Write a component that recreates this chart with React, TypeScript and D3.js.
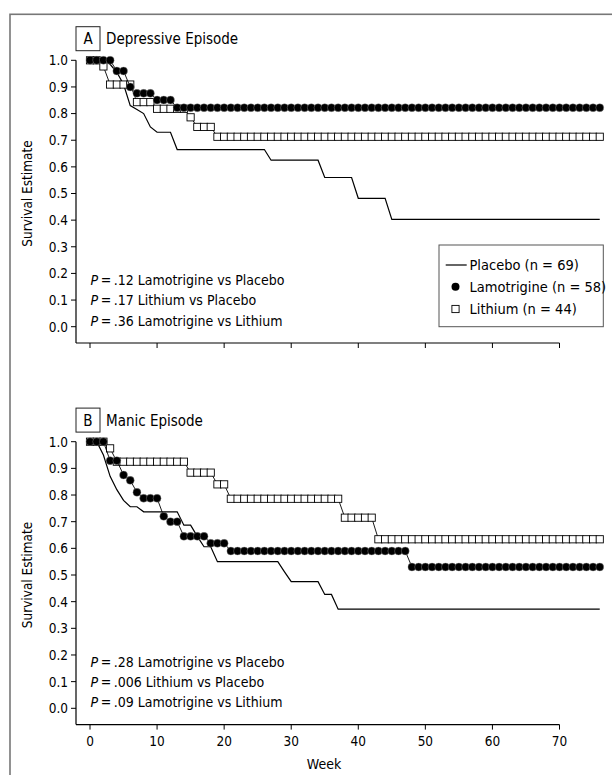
import * as d3 from 'd3'

// weeks on the x axis and survival ticks
const xTicks = [0, 10, 20, 30, 40, 50, 60, 70]
const yTicks = [0, 0.1, 0.2, 0.3, 0.4, 0.5, 0.6, 0.7, 0.8, 0.9, 1.0]

// Panel A: depressive episode
// placebo: [week, survival] vertices of the line
const depPlacebo: [number, number][] = [
  [0, 1], [1, 1], [2, 1], [3, 0.985], [4, 0.955], [5, 0.91], [6, 0.83], [7, 0.815],
  [8, 0.8], [9, 0.75], [10, 0.73], [12, 0.73], [13, 0.665], [26, 0.665], [27, 0.625],
  [34, 0.625], [35, 0.56], [39, 0.56], [40, 0.482], [44, 0.482], [45, 0.403], [76, 0.403],
]
// marked series: [first week, last week, survival] (one marker per week)
const depLamotrigine: [number, number, number][] = [
  [0, 3, 1], [4, 5, 0.96], [6, 6, 0.9], [7, 9, 0.876], [10, 12, 0.851], [13, 76, 0.822],
]
const depLithium: [number, number, number][] = [
  [0, 1, 1], [2, 2, 0.977], [3, 6, 0.909], [7, 9, 0.843], [10, 14, 0.818], [15, 15, 0.786],
  [16, 18, 0.75], [19, 76, 0.713],
]
const depPValues = [
  ['.12', 'Lamotrigine vs Placebo'],
  ['.17', 'Lithium vs Placebo'],
  ['.36', 'Lamotrigine vs Lithium'],
]

// Panel B: manic episode
const manPlacebo: [number, number][] = [
  [0, 1], [1, 1], [2, 0.95], [3, 0.87], [4, 0.82], [5, 0.78], [6, 0.756], [7, 0.756],
  [8, 0.737], [13, 0.737], [14, 0.687], [15, 0.687], [16, 0.645], [17, 0.606], [18, 0.606],
  [19, 0.55], [28, 0.55], [29, 0.512], [30, 0.475], [34, 0.475], [35, 0.427], [36, 0.427],
  [37, 0.372], [76, 0.372],
]
const manLamotrigine: [number, number, number][] = [
  [0, 2, 1], [3, 4, 0.929], [5, 5, 0.875], [6, 6, 0.855], [7, 7, 0.81], [8, 10, 0.788],
  [11, 11, 0.72], [12, 13, 0.7], [14, 17, 0.645], [18, 20, 0.619], [21, 47, 0.59], [48, 76, 0.53],
]
const manLithium: [number, number, number][] = [
  [0, 2, 1], [3, 3, 0.975], [4, 14, 0.925], [15, 18, 0.884], [19, 20, 0.84], [21, 37, 0.786],
  [38, 42, 0.715], [43, 76, 0.634],
]
const manPValues = [
  ['.28', 'Lamotrigine vs Placebo'],
  ['.006', 'Lithium vs Placebo'],
  ['.09', 'Lamotrigine vs Lithium'],
]

const legendItems = ['Placebo (n = 69)', 'Lamotrigine (n = 58)', 'Lithium (n = 44)']

const FONT = "'DejaVu Sans Condensed', 'Liberation Sans Narrow', sans-serif"

function expand(runs: [number, number, number][]): [number, number][] {
  const pts: [number, number][] = []
  runs.forEach(([a, b, v]) => {
    for (let w = a; w <= b; w++) pts.push([w, v])
  })
  return pts
}

const x = d3.scaleLinear().domain([0, 70]).range([90, 559.5])

type PanelProps = {
  letter: string
  title: string
  top: number
  bottom: number
  placebo: [number, number][]
  lamotrigine: [number, number, number][]
  lithium: [number, number, number][]
  pValues: string[][]
  showXLabels: boolean
}

function Panel({ letter, title, top, bottom, placebo, lamotrigine, lithium, pValues, showXLabels }: PanelProps) {
  const y = d3.scaleLinear().domain([0, 1]).range([bottom, top])
  const axisX = 76
  const axisY = bottom + 16.3
  const line = d3.line<[number, number]>().x(d => x(d[0])).y(d => y(d[1]))
  const lam = expand(lamotrigine)
  const lit = expand(lithium)
  const sq = 7.2

  return (
    <g>
      {/* panel label */}
      <rect x={76} y={top - 33.6} width={24} height={24} fill="none" stroke="#222" strokeWidth={1} />
      <text x={88} y={top - 21.6} dy="0.36em" textAnchor="middle" fontSize={15}>{letter}</text>
      <text x={106} y={top - 21.6} dy="0.36em" fontSize={15}>{title}</text>

      {/* y axis */}
      <line x1={axisX} x2={axisX} y1={top} y2={axisY} stroke="#000" strokeWidth={1.2} />
      {yTicks.map(t => (
        <g key={t}>
          <line x1={axisX - 5} x2={axisX} y1={y(t)} y2={y(t)} stroke="#000" strokeWidth={1} />
          <text x={axisX - 8} y={y(t)} dy="0.36em" textAnchor="end" fontSize={13.5}>{t.toFixed(1)}</text>
        </g>
      ))}
      <text
        transform={`translate(27,${(top + bottom) / 2}) rotate(-90)`}
        dy="0.36em" textAnchor="middle" fontSize={13.5}
      >Survival Estimate</text>

      {/* x axis */}
      <line x1={axisX} x2={x(70)} y1={axisY} y2={axisY} stroke="#000" strokeWidth={1.2} />
      {xTicks.map(t => (
        <g key={t}>
          <line x1={x(t)} x2={x(t)} y1={axisY} y2={axisY + 5} stroke="#000" strokeWidth={1} />
          {showXLabels && (
            <text x={x(t)} y={axisY + 16.5} dy="0.36em" textAnchor="middle" fontSize={13.5}>{t}</text>
          )}
        </g>
      ))}
      {showXLabels && (
        <text x={324} y={axisY + 39.5} dy="0.36em" textAnchor="middle" fontSize={14}>Week</text>
      )}

      {/* p values */}
      {pValues.map(([p, label], i) => (
        <text key={label} x={90.5} y={y(0.2) + 6.7 + i * 20.3} dy="0.36em" fontSize={14}>
          <tspan fontStyle="italic">P</tspan>{`\u2009=\u2009${p} ${label}`}
        </text>
      ))}

      {/* placebo */}
      <path d={line(placebo) ?? ''} fill="none" stroke="#000" strokeWidth={1.2} />

      {/* lithium */}
      <path d={line(lit) ?? ''} fill="none" stroke="#000" strokeWidth={0.9} />
      {lit.map(([w, v]) => (
        <rect key={w} x={x(w) - sq / 2} y={y(v) - sq / 2} width={sq} height={sq}
          fill="#fff" stroke="#000" strokeWidth={0.9} />
      ))}

      {/* lamotrigine */}
      <path d={line(lam) ?? ''} fill="none" stroke="#000" strokeWidth={0.9} />
      {lam.map(([w, v]) => (
        <circle key={w} cx={x(w)} cy={y(v)} r={4} fill="#000" stroke="#999" strokeWidth={0.4} />
      ))}
    </g>
  )
}

export default function App() {
  const lx = 439
  const ly = 245
  const rows = [265, 286.7, 309]
  return (
    <svg width={612} height={775} style={{ position: 'absolute', left: 0, top: 0, background: '#fff' }}
      fontFamily={FONT} fill="#000">
      <rect x={10} y={14.3} width={640} height={800} fill="none" stroke="#777" strokeWidth={1.6} />

      <Panel letter="A" title="Depressive Episode" top={60.3} bottom={326.7}
        placebo={depPlacebo} lamotrigine={depLamotrigine} lithium={depLithium}
        pValues={depPValues} showXLabels={false} />

      <Panel letter="B" title="Manic Episode" top={441.7} bottom={708.3}
        placebo={manPlacebo} lamotrigine={manLamotrigine} lithium={manLithium}
        pValues={manPValues} showXLabels={true} />

      {/* legend */}
      <rect x={lx} y={ly} width={164.3} height={81.7} fill="#fff" stroke="#555" strokeWidth={1} />
      <line x1={445.7} x2={466.7} y1={rows[0]} y2={rows[0]} stroke="#000" strokeWidth={1.2} />
      <circle cx={455.5} cy={rows[1]} r={4} fill="#000" />
      <rect x={455.5 - 3.6} y={rows[2] - 3.6} width={7.2} height={7.2} fill="#fff" stroke="#000" strokeWidth={0.9} />
      {legendItems.map((t, i) => (
        <text key={t} x={469.5} y={rows[i]} dy="0.36em" fontSize={14.5}>{t}</text>
      ))}
    </svg>
  )
}
